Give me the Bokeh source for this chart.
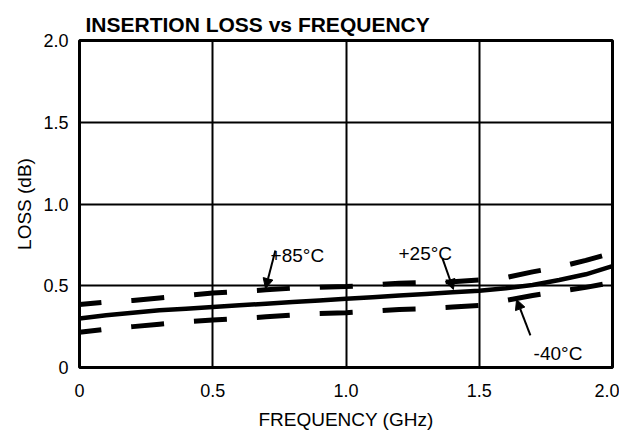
from bokeh.plotting import figure
from bokeh.models import FixedTicker, Label, Arrow, NormalHead, Range1d, CustomJSTickFormatter
from bokeh.embed import file_html
from bokeh.resources import INLINE

# ---- data ----
freq = [0.0, 0.1, 0.2, 0.3, 0.4, 0.5, 0.6, 0.7, 0.8, 0.9, 1.0,
        1.1, 1.2, 1.3, 1.4, 1.5, 1.6, 1.7, 1.8, 1.9, 2.0]
loss_p25 = [0.30, 0.32, 0.335, 0.35, 0.36, 0.37, 0.38, 0.39, 0.40, 0.41, 0.42,
            0.43, 0.44, 0.45, 0.46, 0.47, 0.485, 0.505, 0.535, 0.57, 0.62]
loss_p85 = [0.385, 0.40, 0.41, 0.425, 0.44, 0.455, 0.465, 0.475, 0.485, 0.49, 0.495,
            0.505, 0.515, 0.52, 0.525, 0.535, 0.55, 0.585, 0.615, 0.655, 0.70]
loss_m40 = [0.215, 0.235, 0.25, 0.265, 0.28, 0.29, 0.30, 0.31, 0.32, 0.33, 0.335,
            0.345, 0.355, 0.36, 0.37, 0.38, 0.41, 0.44, 0.465, 0.49, 0.52]

x_ticks = [0.0, 0.5, 1.0, 1.5, 2.0]
x_tick_labels = ["0", "0.5", "1.0", "1.5", "2.0"]
y_ticks = [0.0, 0.5, 1.0, 1.5, 2.0]
y_tick_labels = ["0", "0.5", "1.0", "1.5", "2.0"]

ann_text = ["+85°C", "+25°C", "-40°C"]
ann_x = [0.717, 1.197, 1.704]
ann_y = [0.685, 0.697, 0.086]
lead_x0 = [0.735, 1.362, 1.692]
lead_y0 = [0.716, 0.667, 0.196]
lead_x1 = [0.698, 1.403, 1.640]
lead_y1 = [0.483, 0.477, 0.416]

FONT = "Liberation Sans"

p = figure(width=619, height=432, output_backend="svg", toolbar_location=None,
           x_range=Range1d(0, 2), y_range=Range1d(0, 2),
           min_border_left=79, min_border_right=7, min_border_top=40, min_border_bottom=65,
           title="INSERTION LOSS vs FREQUENCY")
p.background_fill_color = "white"
p.border_fill_color = "white"
p.outline_line_color = "black"
p.outline_line_width = 3

p.title.text_font = FONT
p.title.text_font_size = "21px"
p.title.text_font_style = "bold"
p.title.text_color = "black"
p.title.offset = 6
p.title.standoff = 9

def fmt(tvals, tlabels):
    return CustomJSTickFormatter(args=dict(tvals=tvals, tlabels=tlabels), code="""
        for (let i = 0; i < tvals.length; i++) {
            if (Math.abs(tvals[i] - tick) < 1e-9) { return tlabels[i]; }
        }
        return "";
    """)

p.xaxis.ticker = FixedTicker(ticks=x_ticks)
p.xaxis.formatter = fmt(x_ticks, x_tick_labels)
p.yaxis.ticker = FixedTicker(ticks=y_ticks)
p.yaxis.formatter = fmt(y_ticks, y_tick_labels)

for ax in (p.xaxis, p.yaxis):
    ax.axis_line_color = None
    ax.major_tick_line_color = None
    ax.minor_tick_line_color = None
    ax.major_tick_out = 0
    ax.major_tick_in = 0
    ax.major_label_text_font = FONT
    ax.major_label_text_font_size = "18px"
    ax.major_label_text_color = "black"
    ax.axis_label_text_font = FONT
    ax.axis_label_text_font_size = "19px"
    ax.axis_label_text_font_style = "normal"
    ax.axis_label_text_color = "black"

p.xaxis.major_label_standoff = 16
p.xaxis.axis_label = "FREQUENCY (GHz)"
p.xaxis.axis_label_standoff = 9
p.yaxis.major_label_standoff = 11
p.yaxis.axis_label = "LOSS (dB)"
p.yaxis.axis_label_standoff = 5

p.xgrid.ticker = FixedTicker(ticks=x_ticks)
p.ygrid.ticker = FixedTicker(ticks=y_ticks)
for g in (p.xgrid, p.ygrid):
    g.grid_line_color = "black"
    g.grid_line_width = 2
    g.grid_line_alpha = 1.0

p.line(freq, loss_p25, line_color="black", line_width=4.5)
p.line(freq, loss_p85, line_color="black", line_width=5, line_dash="33 30", line_dash_offset=11)
p.line(freq, loss_m40, line_color="black", line_width=5, line_dash="33 30", line_dash_offset=11)

for t, x, y, x0, y0, x1, y1 in zip(ann_text, ann_x, ann_y, lead_x0, lead_y0, lead_x1, lead_y1):
    p.add_layout(Label(x=x, y=y, text=t, text_font=FONT, text_font_size="19px",
                       text_color="black", text_baseline="alphabetic"))
    p.add_layout(Arrow(x_start=x0, y_start=y0, x_end=x1, y_end=y1, line_width=2,
                       line_color="black",
                       end=NormalHead(size=10, fill_color="black", line_color="black")))

open("out.html", "w").write(file_html(p, INLINE))
